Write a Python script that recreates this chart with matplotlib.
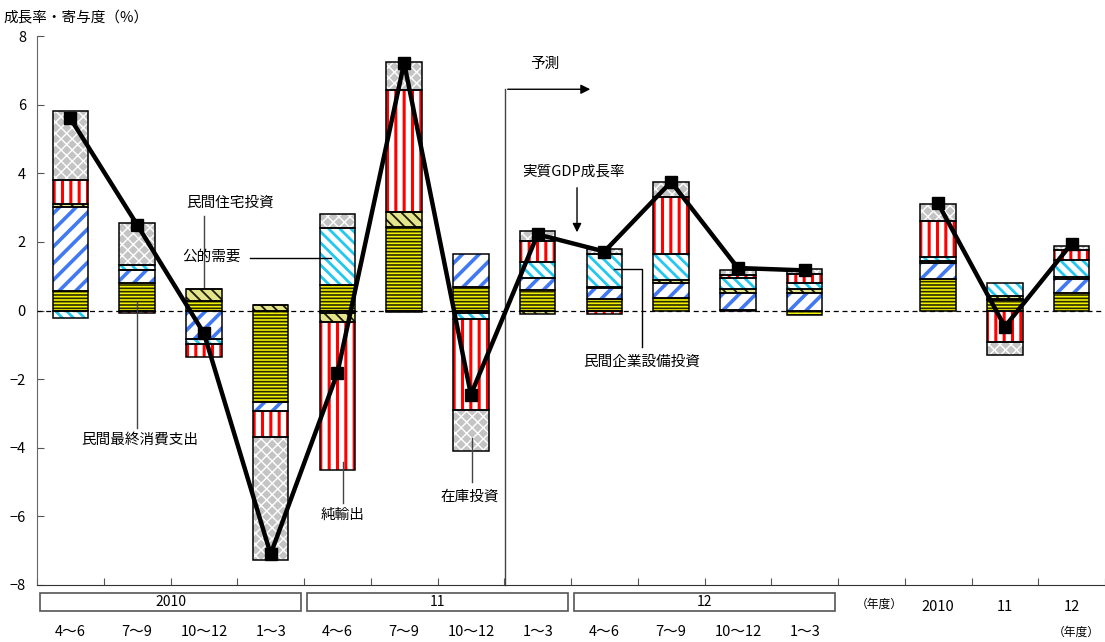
import matplotlib
matplotlib.use("Agg")
import matplotlib.pyplot as plt
import numpy as np
from matplotlib.patches import Rectangle
import matplotlib.transforms as mtransforms

plt.rcParams['font.family'] = ['Noto Sans CJK JP', 'DejaVu Sans']
plt.rcParams['axes.unicode_minus'] = True

# ---- data ----
quarters = ["4～6", "7～9", "10～12", "1～3"] * 3
fiscal_years = ["2010", "11", "12"]
annual_labels = ["2010", "11", "12"]

# quarterly contributions (12 quarters: FY2010 Q1 .. FY2012 Q4)
consumption_q = [0.56, 0.80, 0.27, -2.68, 0.75, 2.43, 0.68, 0.60, 0.33, 0.37, 0.02, -0.12]
capex_q       = [2.45, 0.37, -0.84, -0.25, -0.07, -0.03, 0.98, 0.36, 0.32, 0.43, 0.50, 0.50]
housing_q     = [0.10, 0.02, 0.37, 0.16, -0.27, 0.45, -0.08, -0.10, 0.05, 0.10, 0.12, 0.14]
public_q      = [-0.22, 0.13, -0.13, 0.00, 1.65, 0.00, -0.17, 0.45, 0.96, 0.75, 0.32, 0.15]
netexp_q      = [0.70, -0.06, -0.37, -0.75, -4.32, 3.55, -2.65, 0.62, -0.10, 1.67, 0.07, 0.28]
inventory_q   = [2.00, 1.22, 0.00, -3.60, 0.40, 0.80, -1.20, 0.28, 0.14, 0.44, 0.15, 0.15]
gdp_q         = [5.60, 2.50, -0.66, -7.10, -1.82, 7.22, -2.45, 2.22, 1.72, 3.75, 1.24, 1.17]

# fiscal year contributions (FY2010, FY2011, FY2012)
consumption_a = [0.92, 0.31, 0.50]
capex_a       = [0.46, 0.02, 0.43]
housing_a     = [0.05, 0.08, 0.06]
public_a      = [0.12, 0.40, 0.48]
netexp_a      = [1.05, -0.92, 0.30]
inventory_a   = [0.50, -0.38, 0.12]
gdp_a         = [3.12, -0.47, 1.95]

series_names = ["民間最終消費支出", "民間企業設備投資", "民間住宅投資", "公的需要", "純輸出", "在庫投資"]
yticks = [-8, -6, -4, -2, 0, 2, 4, 6, 8]

# styles: (face, hatch, hatch colour, hatch linewidth)
styles = [
    ("#f2f200", "-----", "#2a2a00", 1.2),
    ("white", "//", "#4079f2", 2.6),
    ("#e4e48c", "\\\\\\", "#1a1a00", 1.3),
    ("white", "\\\\\\", "#22c8ee", 2.0),
    ("white", "||", "#ff0000", 2.2),
    ("#c4c4c4", "xxx", "white", 1.0),
]

fig = plt.figure(figsize=(11.05, 6.42), dpi=100)
ax = fig.add_axes([0.0335, 0.0888, 0.9665, 0.855])

q_x = np.arange(12) + 0.5
a_x = np.array([13.5, 14.5, 15.5])
width = 0.53

def draw_stack(xs, comps):
    pos = np.zeros(len(xs))
    neg = np.zeros(len(xs))
    for (face, hatch, hcol, hlw), vals in zip(styles, comps):
        vals = np.array(vals, dtype=float)
        bottoms = np.where(vals >= 0, pos, neg)
        plt.rcParams['hatch.linewidth'] = hlw
        bars = ax.bar(xs, vals, width, bottom=bottoms, color=face, hatch=hatch,
                      edgecolor=hcol, linewidth=0, zorder=2)
        for b in bars:
            if hasattr(b, "set_hatch_linewidth"):
                b.set_hatch_linewidth(hlw)
        ax.bar(xs, vals, width, bottom=bottoms, fill=False, edgecolor="black",
               linewidth=1.1, zorder=3)
        pos = np.where(vals >= 0, pos + vals, pos)
        neg = np.where(vals < 0, neg + vals, neg)

draw_stack(q_x, [consumption_q, capex_q, housing_q, public_q, netexp_q, inventory_q])
draw_stack(a_x, [consumption_a, capex_a, housing_a, public_a, netexp_a, inventory_a])

ax.plot(q_x, gdp_q, color="black", lw=3.2, marker="s", markersize=9, zorder=5)
ax.plot(a_x, gdp_a, color="black", lw=3.2, marker="s", markersize=9, zorder=5)

ax.axhline(0, color="black", lw=0.9, ls=(0, (4, 3)), zorder=4)

ax.set_xlim(0, 16)
ax.set_ylim(-8, 8)
ax.set_yticks(yticks)
ax.set_xticks(np.arange(0, 17))
ax.set_xticklabels([])
ax.tick_params(axis='both', direction='in', length=5, color="#555555", labelsize=10.5)
ax.tick_params(axis='y', pad=8)
for s in ["top", "right"]:
    ax.spines[s].set_visible(False)
ax.spines["left"].set_color("#666666")
ax.spines["bottom"].set_color("#333333")

trans = mtransforms.blended_transform_factory(ax.transData, ax.transAxes)
# fiscal year boxes
for i, fy in enumerate(fiscal_years):
    x0 = 4 * i + 0.04
    x1 = 4 * i + 3.96
    r = Rectangle((x0, -0.0474), x1 - x0, 0.0328, transform=trans, fill=False,
                  edgecolor="#555555", lw=1.2, clip_on=False)
    ax.add_patch(r)
    ax.text((x0 + x1) / 2, -0.031, fy, transform=trans, ha="center", va="center", fontsize=10)
for xq, lab in zip(q_x, quarters):
    ax.text(xq, -0.0856, lab, transform=trans, ha="center", va="center", fontsize=10.5)
for xa, lab in zip(a_x, annual_labels):
    ax.text(xa, -0.040, lab, transform=trans, ha="center", va="center", fontsize=10.5)
ax.text(12.62, -0.036, "（年度）", transform=trans, ha="center", va="center", fontsize=8.5)
ax.text(15.57, -0.0856, "（年度）", transform=trans, ha="center", va="center", fontsize=8.5)

fig.text(0.003, 0.972, "成長率・寄与度（%）", ha="left", va="center", fontsize=10.5)

# forecast marker
ax.plot([7.01, 7.01], [-8, 6.45], color="#444444", lw=1.0, zorder=1, clip_on=False)
ax.annotate("", xy=(8.33, 6.45), xytext=(7.01, 6.45),
            arrowprops=dict(arrowstyle="-|>", color="black", lw=1.0, mutation_scale=14))
ax.text(7.6, 7.2, "予測", ha="center", va="center", fontsize=10.5)

lc = "#444444"
# 民間住宅投資
ax.text(2.9, 3.13, series_names[2], ha="center", va="center", fontsize=10.5)
ax.plot([2.5, 2.5], [2.76, 0.65], color=lc, lw=1, zorder=1)
# 公的需要
ax.text(2.62, 1.56, series_names[3], ha="center", va="center", fontsize=10.5)
ax.plot([3.19, 4.4], [1.53, 1.53], color="black", lw=1, zorder=6)
# 民間最終消費支出
ax.text(1.54, -3.78, series_names[0], ha="center", va="center", fontsize=10.5)
ax.plot([1.5, 1.5], [0.25, -3.43], color=lc, lw=1, zorder=6)
# 純輸出
ax.text(4.58, -5.96, series_names[4], ha="center", va="center", fontsize=10.5)
ax.plot([4.58, 4.58], [-4.41, -5.6], color=lc, lw=1, zorder=6)
# 在庫投資
ax.text(6.48, -5.44, series_names[5], ha="center", va="center", fontsize=10.5)
ax.plot([6.52, 6.52], [-3.72, -5.0], color=lc, lw=1, zorder=6)
# 実質GDP成長率
ax.text(8.04, 4.04, "実質GDP成長率", ha="center", va="center", fontsize=10.5)
ax.annotate("", xy=(8.09, 2.2), xytext=(8.09, 3.66),
            arrowprops=dict(arrowstyle="-|>", color="black", lw=1.0, mutation_scale=13))
# 民間企業設備投資
ax.text(9.06, -1.49, series_names[1], ha="center", va="center", fontsize=10.5)
ax.plot([8.65, 9.06, 9.06], [1.21, 1.21, -1.05], color="black", lw=1, zorder=6)

fig.savefig("out.png", dpi=100)
